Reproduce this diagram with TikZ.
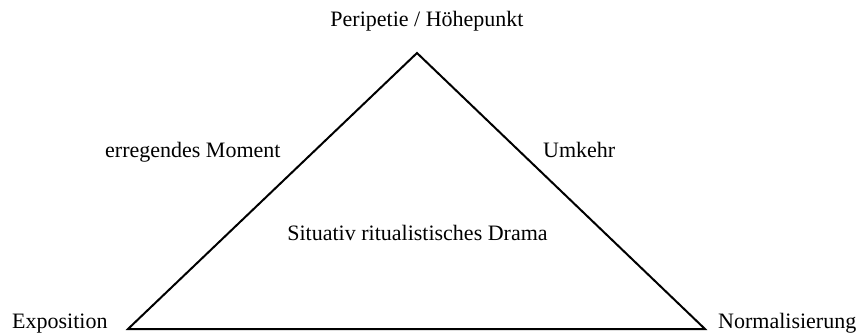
\documentclass[tikz,border=0pt]{standalone}
\usepackage{fontspec}
\setmainfont{Liberation Serif}
\begin{document}
\begin{tikzpicture}[x=1pt,y=-1pt,
  lbl/.style={inner sep=0pt,font=\fontsize{22}{26}\selectfont},
  edge/.style={line width=2pt,line join=miter}]
\useasboundingbox (0,0) rectangle (863,333);
\coordinate (apex) at (417,53);
\coordinate (left) at (128,329);
\coordinate (right) at (705,329);
\draw[edge] (left) -- (apex) -- (right) -- cycle;
\node[lbl,anchor=base] (top) at (427,26) {Peripetie / Höhepunkt};
\node[lbl,anchor=base west] (expo) at (12,328) {Exposition};
\node[lbl,anchor=base west] (norm) at (718,328) {Normalisierung};
\node[lbl,anchor=base west] (erreg) at (105,157) {erregendes Moment};
\node[lbl,anchor=base west] (umk) at (543,157) {Umkehr};
\node[lbl,anchor=base] (drama) at (417.5,240) {Situativ ritualistisches Drama};
\end{tikzpicture}
\end{document}
